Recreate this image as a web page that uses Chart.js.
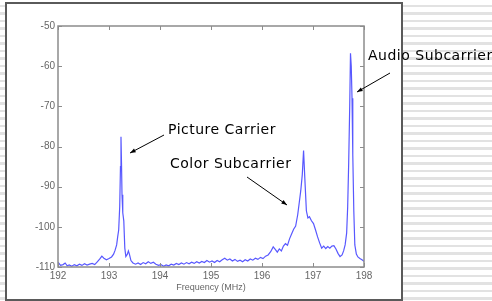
<!DOCTYPE html>
<html>
<head>
<meta charset="utf-8">
<script src="https://cdn.jsdelivr.net/npm/chart.js@4.4.1/dist/chart.umd.min.js"></script>
<style>
  html, body { margin: 0; padding: 0; }
  body {
    width: 492px; height: 301px; position: relative; overflow: hidden;
    background: repeating-linear-gradient(to bottom, #ffffff 0px, #ffffff 5px, #e2e2e2 5px, #e2e2e2 7.5px);
  }
  #frame {
    position: absolute; left: 5px; top: 2px; width: 394px; height: 295px;
    background: #fff; border: 2px solid #5a5a5a;
  }
  #spectrum { position: absolute; left: 0; top: 0; }
</style>
</head>
<body>
<div id="frame"></div>
<canvas id="spectrum" width="492" height="301"></canvas>
<script>
// frequency axis (MHz) and measured level (dBm)
const freqMHz = [
    192.00, 192.05, 192.10, 192.14, 192.18, 192.22, 192.27, 192.32, 192.37, 192.42,
    192.47, 192.52, 192.57, 192.62, 192.67, 192.72, 192.77, 192.82, 192.86, 192.90,
    192.95, 193.00, 193.05, 193.09, 193.12, 193.15, 193.17, 193.19, 193.21, 193.225,
    193.235, 193.245, 193.255, 193.27, 193.29, 193.31, 193.33, 193.36, 193.38, 193.40,
    193.43, 193.47, 193.52, 193.57, 193.62, 193.67, 193.72, 193.77, 193.82, 193.87,
    193.92, 193.97, 194.02, 194.07, 194.12, 194.17, 194.22, 194.27, 194.32, 194.37,
    194.42, 194.47, 194.52, 194.57, 194.62, 194.67, 194.72, 194.77, 194.82, 194.87,
    194.92, 194.97, 195.02, 195.07, 195.12, 195.17, 195.22, 195.27, 195.32, 195.37,
    195.42, 195.47, 195.52, 195.57, 195.62, 195.67, 195.72, 195.77, 195.82, 195.87,
    195.92, 195.97, 196.02, 196.07, 196.12, 196.17, 196.22, 196.26, 196.30, 196.34,
    196.38, 196.42, 196.46, 196.50, 196.54, 196.58, 196.62, 196.66, 196.70, 196.73,
    196.76, 196.79, 196.815, 196.84, 196.87, 196.90, 196.93, 196.97, 197.01, 197.05,
    197.09, 197.13, 197.17, 197.21, 197.25, 197.29, 197.33, 197.37, 197.41, 197.45,
    197.49, 197.53, 197.57, 197.60, 197.63, 197.66, 197.68, 197.70, 197.72, 197.735,
    197.75, 197.765, 197.78, 197.80, 197.82, 197.85, 197.88, 197.92, 197.96, 198.00
];
const levelDbm = [
    -108.8, -109.6, -109.4, -109.0, -109.7, -109.5, -109.8, -109.4, -109.7, -109.3,
    -109.6, -109.2, -109.5, -109.3, -109.1, -109.4, -108.7, -108.0, -107.3, -107.8,
    -108.2, -107.9, -107.5, -106.8, -105.8, -104.5, -102.5, -100.8, -95.0, -85.0,
    -77.6, -84.0, -92.0, -96.5, -98.5, -105.3, -107.4, -106.8, -106.0, -106.8,
    -108.4, -109.0, -109.3, -109.0, -109.4, -108.9, -109.2, -108.7, -109.1, -108.8,
    -109.3, -109.6, -109.4, -109.8, -109.5, -109.7, -109.3, -109.5, -109.1, -109.4,
    -109.0, -109.3, -108.9, -109.2, -108.8, -109.1, -108.7, -109.0, -108.6, -108.9,
    -108.4, -108.8, -108.5, -108.9, -108.4, -108.7, -108.2, -107.8, -108.3, -108.0,
    -108.5, -108.1, -108.6, -108.3, -108.7, -108.2, -108.5, -108.0, -108.3, -107.8,
    -108.1, -107.6, -107.9, -107.3, -107.0, -106.2, -105.0, -105.6, -106.3, -105.5,
    -106.0, -104.8, -104.2, -104.6, -103.0, -101.8, -100.6, -99.8, -97.0, -94.0,
    -91.0, -87.0, -81.0, -88.0, -96.0, -97.8, -97.5, -98.5, -99.2, -100.8,
    -102.5, -104.0, -105.3, -104.8, -105.4, -104.9, -105.3, -104.8, -104.7, -105.5,
    -106.6, -107.4, -107.0, -106.0, -104.5, -101.5, -95.0, -84.0, -70.0, -56.8,
    -60.0, -68.0, -82.0, -96.0, -104.5, -106.8, -107.5, -107.9, -108.2, -108.6
];
const xTicks = [192, 193, 194, 195, 196, 197, 198];
const yTicks = [-110, -100, -90, -80, -70, -60, -50];
const xTitle = 'Frequency (MHz)';
const notes = ['Picture Carrier', 'Color Subcarrier', 'Audio Subcarrier'];

// box round the plot with small inward ticks on every side
const boxPlugin = {
    id: 'box',
    afterDraw(chart) {
        const { ctx, chartArea: a, scales } = chart;
        ctx.save();
        ctx.strokeStyle = '#8c8c8c';
        ctx.lineWidth = 1.5;
        ctx.strokeRect(a.left, a.top, a.right - a.left, a.bottom - a.top);
        ctx.lineWidth = 1;
        ctx.beginPath();
        xTicks.forEach(v => {
            const x = Math.round(scales.x.getPixelForValue(v)) + 0.5;
            ctx.moveTo(x, a.bottom); ctx.lineTo(x, a.bottom - 4);
            ctx.moveTo(x, a.top); ctx.lineTo(x, a.top + 4);
        });
        yTicks.forEach(v => {
            const y = Math.round(scales.y.getPixelForValue(v)) + 0.5;
            ctx.moveTo(a.left, y); ctx.lineTo(a.left + 4, y);
            ctx.moveTo(a.right, y); ctx.lineTo(a.right - 4, y);
        });
        ctx.stroke();
        ctx.restore();
    }
};

function arrow(ctx, x1, y1, x2, y2) {
    const ang = Math.atan2(y2 - y1, x2 - x1);
    ctx.beginPath();
    ctx.moveTo(x1, y1);
    ctx.lineTo(x2, y2);
    ctx.stroke();
    ctx.beginPath();
    ctx.moveTo(x2, y2);
    ctx.lineTo(x2 - 6 * Math.cos(ang - 0.35), y2 - 6 * Math.sin(ang - 0.35));
    ctx.lineTo(x2 - 6 * Math.cos(ang + 0.35), y2 - 6 * Math.sin(ang + 0.35));
    ctx.closePath();
    ctx.fill();
}

const notePlugin = {
    id: 'notes',
    afterDraw(chart) {
        const ctx = chart.ctx;
        ctx.save();
        ctx.fillStyle = '#000';
        ctx.strokeStyle = '#000';
        ctx.lineWidth = 1;
        ctx.font = '14px "DejaVu Sans", Verdana, sans-serif';
        ctx.letterSpacing = '0.5px';
        ctx.textBaseline = 'middle';
        ctx.textAlign = 'left';
        ctx.fillText(notes[0], 168, 130);
        ctx.fillText(notes[1], 170, 164);
        ctx.fillText(notes[2], 368, 56);
        arrow(ctx, 164, 135, 130, 153);
        arrow(ctx, 247, 177, 287, 205);
        arrow(ctx, 390, 73, 357, 92);
        ctx.restore();
    }
};

const ctx = document.getElementById('spectrum').getContext('2d');
new Chart(ctx, {
    type: 'line',
    data: {
        datasets: [{
            label: 'Spectrum',
            data: freqMHz.map((f, i) => ({ x: f, y: levelDbm[i] })),
            borderColor: 'rgb(88, 88, 255)',
            borderWidth: 1.2,
            pointRadius: 0,
            tension: 0,
            fill: false
        }]
    },
    options: {
        responsive: false,
        animation: false,
        devicePixelRatio: 1,
        layout: { padding: { top: 26, right: 128, bottom: 0, left: 0 } },
        plugins: {
            legend: { display: false },
            tooltip: { enabled: false }
        },
        scales: {
            x: {
                type: 'linear',
                min: 192,
                max: 198,
                afterBuildTicks: s => { s.ticks = xTicks.map(v => ({ value: v })); },
                afterFit: s => { s.height = 34; },
                grid: { display: false, drawTicks: false, tickLength: 0 },
                border: { display: false },
                ticks: {
                    color: '#666',
                    padding: 3,
                    maxRotation: 0,
                    font: { family: 'Liberation Sans, Arial', size: 10 }
                },
                title: {
                    display: true,
                    text: xTitle,
                    color: '#666',
                    padding: { top: 0, bottom: 8 },
                    font: { family: 'Liberation Sans, Arial', size: 9 }
                }
            },
            y: {
                min: -110,
                max: -50,
                afterBuildTicks: s => { s.ticks = yTicks.map(v => ({ value: v })); },
                afterFit: s => { s.width = 58; },
                grid: { display: false, drawTicks: false, tickLength: 0 },
                border: { display: false },
                ticks: {
                    color: '#666',
                    padding: 3,
                    font: { family: 'Liberation Sans, Arial', size: 10 }
                }
            }
        }
    },
    plugins: [boxPlugin, notePlugin]
});
</script>
</body>
</html>
